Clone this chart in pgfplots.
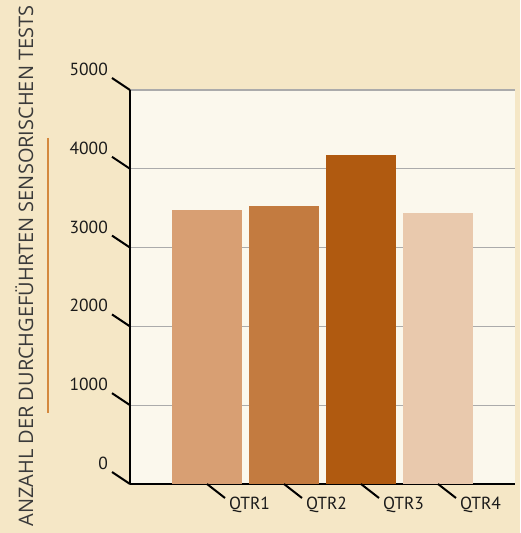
\documentclass[border=0pt]{standalone}
\usepackage{fontspec}
\setmainfont{Open Sans}
\newfontfamily\tickfont{PT Sans}
\usepackage{pgfplots}
\pgfplotsset{compat=1.18}
\definecolor{bgc}{HTML}{F5E7C6}
\definecolor{plotbg}{HTML}{FBF8ED}
\definecolor{cA}{HTML}{D89F73}
\definecolor{cB}{HTML}{C37B40}
\definecolor{cC}{HTML}{B05A10}
\definecolor{cD}{HTML}{E9C9AD}
\definecolor{gridc}{HTML}{ABABAB}
\definecolor{txt}{HTML}{1A1A1A}
\definecolor{ylab}{HTML}{3A3A3A}
\definecolor{oline}{HTML}{D4883E}
\begin{document}
\begin{tikzpicture}
\useasboundingbox (0,0) rectangle (520pt,533pt);
\fill[bgc] (0,0) rectangle (520pt,533pt);
\node[rotate=90, anchor=base, text=ylab, font=\fontsize{20}{24}\selectfont, inner sep=0pt] at (33pt,267pt) {ANZAHL DER DURCHGEFÜHRTEN SENSORISCHEN TESTS};
\draw[oline, line width=1.2pt] (48pt,395pt) -- (48pt,120pt);
\begin{axis}[
  at={(130pt,49pt)}, anchor=south west,
  scale only axis, width=385pt, height=394pt,
  xmin=-1, xmax=4, ymin=0, ymax=5000,
  axis background/.style={fill=plotbg},
  axis x line=bottom, axis y line=left,
  x axis line style={-, line width=2.5pt, black},
  y axis line style={-, line width=2pt, black},
  ybar, bar width=70pt, bar shift=0pt,
  xtick={0,1,2,3}, xticklabels={QTR1,QTR2,QTR3,QTR4},
  ytick={0,1000,2000,3000,4000,5000},
  major tick length=0pt,
  ymajorgrids, major grid style={gridc, line width=1.2pt},
  scaled y ticks=false,
  /pgf/number format/1000 sep={},
  /pgf/number format/assume math mode=true,
  tick label style={font=\tickfont\fontsize{17.5}{20}\selectfont, text=txt},
  yticklabel style={anchor=south east, inner sep=0pt, xshift=-22pt, yshift=14pt},
  xticklabel style={anchor=north west, inner sep=0pt, xshift=22pt, yshift=-13pt},
  clip=false,
]
\addplot[fill=cA, draw=none] coordinates {(0,3480)};
\addplot[fill=cB, draw=none] coordinates {(1,3530)};
\addplot[fill=cC, draw=none] coordinates {(2,4175)};
\addplot[fill=cD, draw=none] coordinates {(3,3440)};
\foreach \yy in {0,1000,2000,3000,4000,5000}{
  \edef\tmp{\noexpand\draw[line width=2pt, black] (axis cs:-1,\yy) -- ++(-18pt,12pt);}\tmp
}
\foreach \xx in {0,1,2,3}{
  \edef\tmp{\noexpand\draw[line width=2pt, black] (axis cs:\xx,0) -- ++(18pt,-14pt);}\tmp
}
\end{axis}
\end{tikzpicture}
\end{document}
